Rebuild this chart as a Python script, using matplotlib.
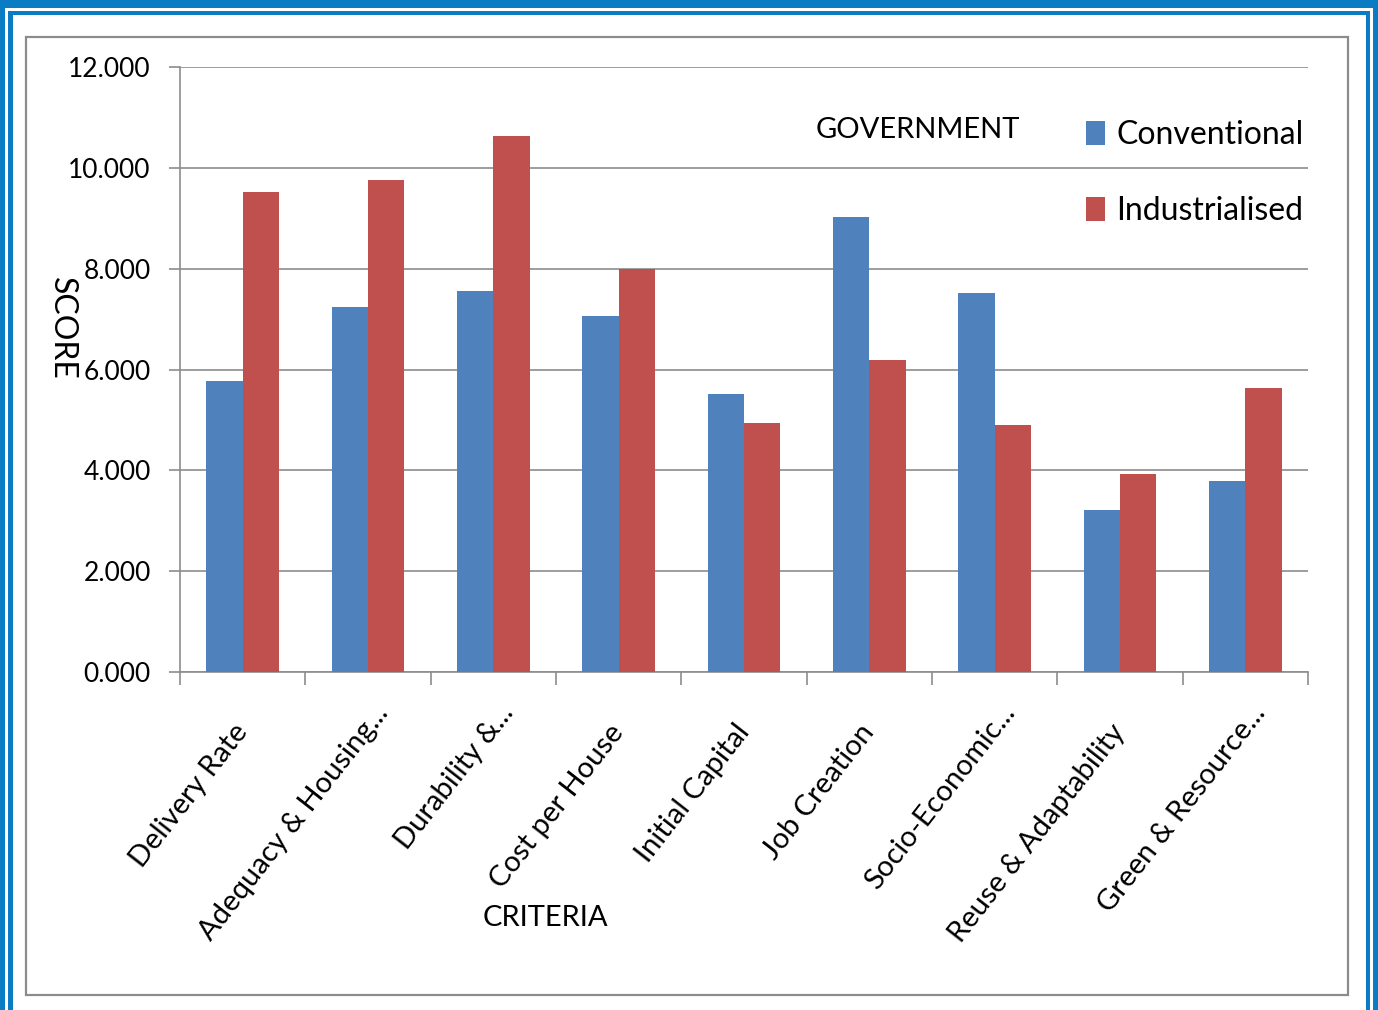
import numpy as np
import matplotlib.pyplot as plt
import matplotlib.transforms as mtransforms
from matplotlib.patches import Rectangle

criteria = ['Delivery Rate', 'Adequacy & Housing...', 'Durability &...', 'Cost per House',
            'Initial Capital', 'Job Creation', 'Socio-Economic...', 'Reuse & Adaptability',
            'Green & Resource...']
conventional = [5.77, 7.24, 7.56, 7.06, 5.51, 9.02, 7.52, 3.21, 3.79]
industrialised = [9.52, 9.76, 10.63, 7.99, 4.94, 6.19, 4.90, 3.93, 5.63]
yticks = [0, 2, 4, 6, 8, 10, 12]

plt.rcParams['font.family'] = ['Lato', 'DejaVu Sans']

W, H = 1378, 1010
fig = plt.figure(figsize=(W / 100, H / 100), dpi=100)


def fr(x0, y0, x1, y1, **kw):
    # rectangle in pixel coords (top-left origin)
    fig.patches.append(Rectangle((x0 / W, 1 - y1 / H), (x1 - x0) / W, (y1 - y0) / H,
                                 transform=fig.transFigure, **kw))


blue_frame = '#0A7CC4'
# double blue frame (no bottom edge)
for r in [(0, 0, W, 8), (0, 0, 5, H), (1373, 0, W, H),
          (8, 11, 1370, 15), (8, 11, 13, H), (1366, 11, 1370, H)]:
    fr(*r, color=blue_frame, linewidth=0)
# inner grey chart box
fr(26, 37, 1348, 995, fill=False, edgecolor='#8c8c8c', linewidth=1.6)

ax = fig.add_axes([180 / W, 1 - 672 / H, 1128 / W, 605 / H])
x = np.arange(len(criteria))
w = 0.29
ax.bar(x - w / 2, conventional, w, color='#4F81BD', label='Conventional', zorder=3)
ax.bar(x + w / 2, industrialised, w, color='#C0504D', label='Industrialised', zorder=3)

ax.set_xlim(-0.5, len(criteria) - 0.5)
ax.set_ylim(0, 12)
ax.set_yticks(yticks)
ax.set_yticklabels(['%.3f' % v for v in yticks], fontsize=19)
ax.yaxis.grid(True, color='#8c8c8c', linewidth=1.2, zorder=0)
ax.set_xticks(np.arange(len(criteria) + 1) - 0.5, minor=False)
ax.set_xticklabels([])
ax.set_xticks(x, minor=True)
ax.set_xticklabels(criteria, minor=True, rotation=52, ha='right', va='center',
                   rotation_mode='anchor', fontsize=21)
ax.tick_params(axis='x', which='minor', length=0, pad=40)
ax.tick_params(axis='x', which='major', length=9, color='#8c8c8c', width=1.2)
ax.tick_params(axis='y', length=8, color='#8c8c8c', width=1.2, pad=13)
# truncated labels sit a bit further up/right in the original
for lab in ax.get_xticklabels(minor=True):
    if lab.get_text().endswith('...'):
        lab.set_transform(lab.get_transform() +
                          mtransforms.ScaledTranslation(11 / 72, 14 / 72, fig.dpi_scale_trans))
for s in ['top', 'right']:
    ax.spines[s].set_visible(False)
for s in ['left', 'bottom']:
    ax.spines[s].set_color('#8c8c8c')
    ax.spines[s].set_linewidth(1.2)

fig.text(62 / W, 1 - 328 / H, 'SCORE', rotation=-90, fontsize=23, ha='center', va='center')
fig.text(545 / W, 1 - 918 / H, 'CRITERIA', fontsize=21, ha='center', va='center')
fig.text(918 / W, 1 - 130 / H, 'GOVERNMENT', fontsize=21, ha='center', va='center')

ax.legend(loc='upper left', bbox_to_anchor=(1086 / W, 1 - 120 / H), bbox_transform=fig.transFigure,
          frameon=False, fontsize=23, handlelength=0.6, handleheight=0.8, handletextpad=0.35,
          labelspacing=1.45, borderpad=0, borderaxespad=0)

fig.savefig('out.png', dpi=100)
